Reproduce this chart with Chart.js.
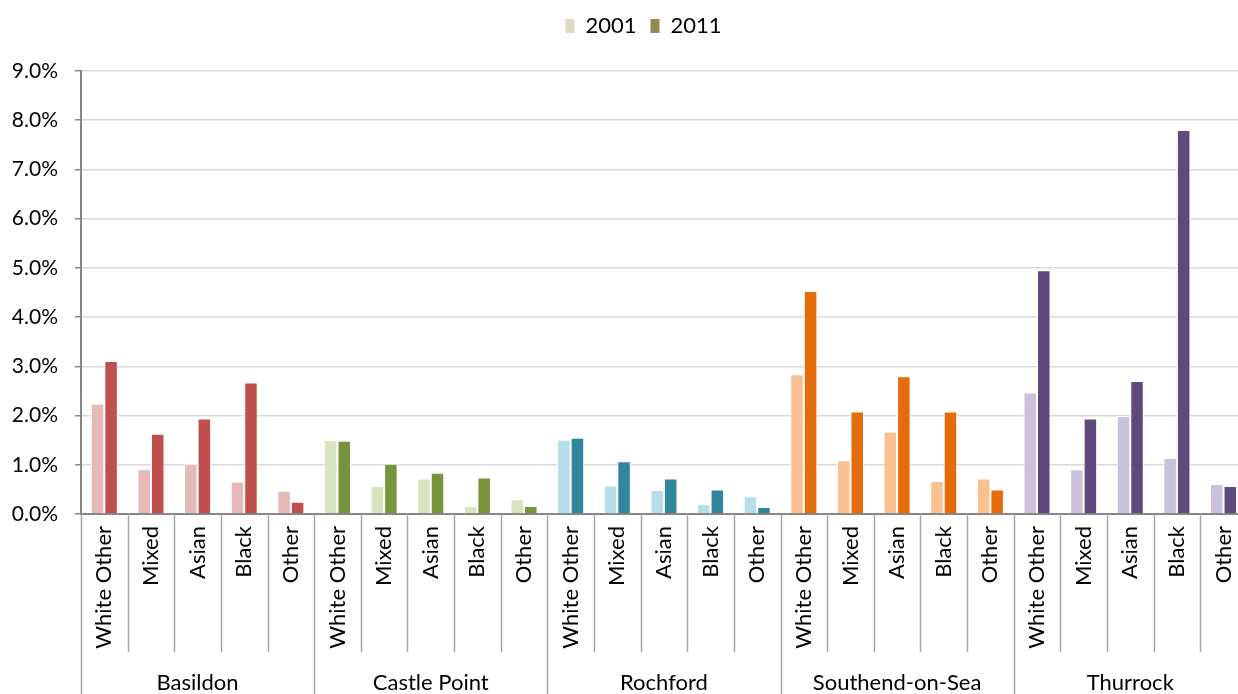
<!DOCTYPE html>
<html>
<head>
<meta charset="utf-8">
<script src="https://cdn.jsdelivr.net/npm/chart.js@4.4.1/dist/chart.umd.min.js"></script>
<style>
	html, body { margin: 0; padding: 0; background: #fff; overflow: hidden; }
	#wrap { position: absolute; left: 0; top: 0; width: 1262px; height: 694px; }
</style>
</head>
<body>
<div id="wrap"><canvas id="ethnicityChart" width="1262" height="694"></canvas></div>
<script>
const districts = ['Basildon', 'Castle Point', 'Rochford', 'Southend-on-Sea', 'Thurrock'];
const groups = ['White Other', 'Mixed', 'Asian', 'Black', 'Other'];

// share of population, % (district by district, groups in the order above)
const values2001 = [
	2.24, 0.91, 1.02, 0.66, 0.47,
	1.50, 0.57, 0.72, 0.16, 0.30,
	1.51, 0.58, 0.49, 0.20, 0.36,
	2.84, 1.09, 1.67, 0.67, 0.72,
	2.47, 0.91, 1.99, 1.14, 0.61
];
const values2011 = [
	3.11, 1.63, 1.94, 2.67, 0.25,
	1.49, 1.02, 0.84, 0.74, 0.16,
	1.55, 1.07, 0.72, 0.50, 0.14,
	4.53, 2.08, 2.80, 2.08, 0.50,
	4.95, 1.94, 2.70, 7.80, 0.57
];
const yTicks = [0, 1, 2, 3, 4, 5, 6, 7, 8, 9];

const light = ['#E6B9B8', '#D7E4BD', '#B7DEE8', '#FAC090', '#CCC1DA'];
const dark = ['#C0504D', '#77933C', '#31859C', '#E46C0A', '#604A7B'];
const legendColors = ['#DDD9C4', '#948A54'];

const fontFamily = 'Lato, "Open Sans", sans-serif';
const axisGray = '#868686';

function ethnicityChartConfig() {
	const canvas = document.getElementById('ethnicityChart');
	if (!canvas) return;
	const ctx = canvas.getContext('2d');

	// one label per bar group, district names sit on the middle group
	const labels = [];
	const districtLabels = [];
	districts.forEach(d => {
		groups.forEach((g, i) => {
			labels.push(g);
			districtLabels.push(i === 2 ? d : '');
		});
	});
	const perBar = arr => districts.flatMap((d, i) => groups.map(() => arr[i]));

	// extra room between legend and plot, legend nudged right
	const legendGapPlugin = {
		id: 'legendGapPlugin',
		beforeInit(chart) {
			const fit = chart.legend.fit;
			chart.legend.fit = function () {
				fit.bind(chart.legend)();
				this.height += 24;
			};
		},
		afterLayout(chart) {
			chart.legend.left += 14;
			chart.legend.right += 14;
		}
	};

	// vertical separators under the axis
	const separatorPlugin = {
		id: 'separatorPlugin',
		afterDraw(chart) {
			const x = chart.scales.x;
			const c = chart.ctx;
			const half = (x.getPixelForValue(1) - x.getPixelForValue(0)) / 2;
			c.save();
			c.strokeStyle = '#A6A6A6';
			c.lineWidth = 1.5;
			for (let k = 0; k <= labels.length; k++) {
				const px = Math.round(x.getPixelForValue(k) - half) + 0.5;
				const bottom = k % groups.length === 0 ? chart.height : x.bottom - 2;
				c.beginPath();
				c.moveTo(px, x.top);
				c.lineTo(px, bottom);
				c.stroke();
			}
			c.restore();
		}
	};

	new Chart(ctx, {
		type: 'bar',
		data: {
			labels: labels,
			datasets: [{
				label: '2001',
				data: values2001,
				backgroundColor: perBar(light),
				borderColor: '#fff',
				borderWidth: 1,
				borderSkipped: 'start'
			},
			{
				label: '2011',
				data: values2011,
				backgroundColor: perBar(dark),
				borderColor: '#fff',
				borderWidth: 1,
				borderSkipped: 'start'
			}]
		},
		options: {
			responsive: false,
			animation: false,
			devicePixelRatio: 1,
			categoryPercentage: 0.58,
			barPercentage: 1,
			layout: {
				padding: { top: 1, left: 0, right: 3, bottom: 0 }
			},
			plugins: {
				legend: {
					display: true,
					position: 'top',
					labels: {
						color: '#000',
						boxWidth: 9,
						boxHeight: 14,
						padding: 14,
						font: { size: 22, family: fontFamily },
						generateLabels: chart => chart.data.datasets.map((ds, i) => ({
							text: ds.label,
							fillStyle: legendColors[i],
							strokeStyle: legendColors[i],
							lineWidth: 0,
							hidden: false,
							datasetIndex: i
						}))
					}
				},
				tooltip: {
					callbacks: {
						label: context => `${context.dataset.label}: ${context.parsed.y.toFixed(1)}%`
					}
				}
			},
			scales: {
				x: {
					position: 'bottom',
					grid: { display: false, drawTicks: false },
					border: { display: true, color: axisGray, width: 2 },
					ticks: {
						autoSkip: false,
						minRotation: 90,
						maxRotation: 90,
						padding: 12,
						color: '#000',
						font: { size: 22, family: fontFamily }
					},
					afterFit: scale => { scale.height = 140; }
				},
				x2: {
					type: 'category',
					position: 'bottom',
					labels: districtLabels,
					offset: true,
					grid: { display: false, drawTicks: false },
					border: { display: false },
					ticks: {
						autoSkip: false,
						maxRotation: 0,
						minRotation: 0,
						padding: 16,
						color: '#000',
						font: { size: 22, family: fontFamily }
					},
					afterFit: scale => { scale.height = 40; }
				},
				y: {
					min: yTicks[0],
					max: yTicks[yTicks.length - 1],
					afterBuildTicks: scale => { scale.ticks = yTicks.map(v => ({ value: v })); },
					grid: {
						color: '#D9D9D9',
						lineWidth: 1.5,
						tickColor: axisGray,
						tickLength: 6
					},
					border: { display: true, color: axisGray, width: 2 },
					ticks: {
						padding: 17,
						color: '#000',
						font: { size: 21, family: fontFamily },
						callback: v => v.toFixed(1) + '%'
					},
					afterFit: scale => { scale.width = 81; }
				}
			}
		},
		plugins: [legendGapPlugin, separatorPlugin]
	});
}
document.addEventListener('DOMContentLoaded', ethnicityChartConfig);
</script>
</body>
</html>
